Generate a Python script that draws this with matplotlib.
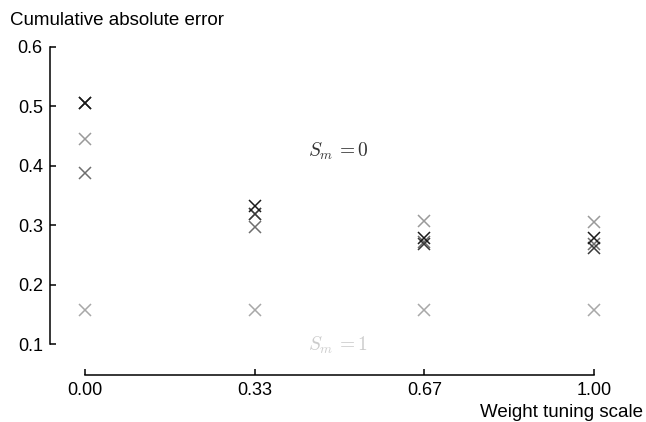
import matplotlib
matplotlib.use("Agg")
import matplotlib.pyplot as plt

plt.rcParams['font.family'] = ['Liberation Sans', 'DejaVu Sans']
plt.rcParams['mathtext.fontset'] = 'cm'

# weight tuning scale (x) and cumulative absolute error per series
scales = [0.0, 1 / 3, 2 / 3, 1.0]
tick_labels = ['0.00', '0.33', '0.67', '1.00']

err_a = [0.505, 0.332, 0.279, 0.278]
err_b = [0.505, 0.319, 0.268, 0.262]
err_c = [0.388, 0.296, 0.271, 0.268]
err_d = [0.445, 0.318, 0.306, 0.305]
err_e = [0.157, 0.157, 0.157, 0.157]

series = [err_d, err_e, err_c, err_b, err_a]
colors = ['#9a9a9a', '#a8a8a8', '#6e6e6e', '#3a3a3a', '#1a1a1a']

fig = plt.figure(figsize=(6.46, 4.22), dpi=100)
ax = fig.add_axes([0.0921, 0.1848, 0.8669, 0.705])

for vals, c in zip(series, colors):
    ax.plot(scales, vals, linestyle='none', marker='x', markersize=8.5,
            markeredgewidth=1.1, color=c)

ax.text(0.438, 0.423, r'$S_m\,{=}0$', fontsize=14, color='#333333',
        va='center', ha='left')
ax.text(0.438, 0.098, r'$S_m\,{=}1$', fontsize=14, color='#cccccc',
        va='center', ha='left')

ax.set_xlim(-0.05, 1.05)
ax.set_ylim(0.1, 0.6)
ax.set_xticks(scales)
ax.set_xticklabels(tick_labels)
ax.set_yticks([0.1, 0.2, 0.3, 0.4, 0.5, 0.6])

for s in ['top', 'right']:
    ax.spines[s].set_visible(False)
ax.spines['left'].set_position(('outward', 7))
ax.spines['bottom'].set_position(('outward', 22))
ax.spines['left'].set_bounds(0.1, 0.6)
ax.spines['bottom'].set_bounds(0.0, 1.0)
for s in ['left', 'bottom']:
    ax.spines[s].set_linewidth(1.1)

ax.tick_params(direction='in', length=4, width=1.1, labelsize=13, pad=5)

ax.set_ylabel('Cumulative absolute error', fontsize=13.5, rotation=0,
              ha='left', va='center')
ax.yaxis.set_label_coords(-0.0884, 1.089)
ax.set_xlabel('Weight tuning scale', fontsize=13.5, ha='right', va='center')
ax.xaxis.set_label_coords(1.042, -0.2286)

fig.savefig('out.png', dpi=100)
